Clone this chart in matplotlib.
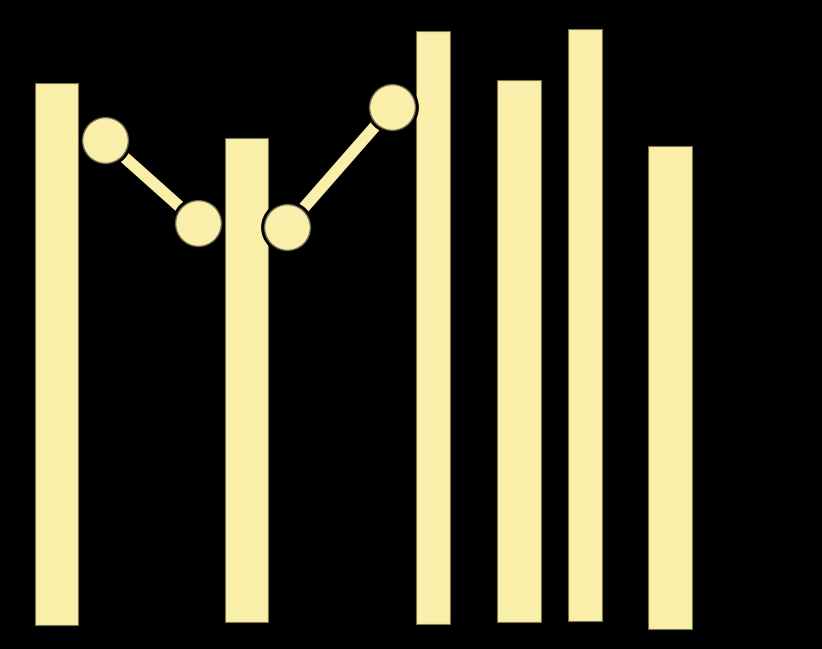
import matplotlib.pyplot as plt
import numpy as np

# bar data (axis units, y measured up from the bottom of the canvas)
bar_x = [56.5, 246.5, 433, 519, 585, 670]
bar_w = [43, 43, 34, 44, 34, 44]
bar_bottom = [24, 27.5, 25.5, 27, 28, 20.5]
bar_top = [566, 511, 618, 569.5, 620, 503.5]

# line with markers, drawn as two separate segments
seg1_x = [105, 198]
seg1_y = [509, 426]
seg2_x = [287, 392]
seg2_y = [422, 542]

yellow = '#f9efaa'

fig = plt.figure(figsize=(8.22, 6.49), dpi=100, facecolor='black')
ax = fig.add_axes([0, 0, 1, 1])
ax.set_facecolor('black')

heights = np.array(bar_top) - np.array(bar_bottom)
ax.bar(bar_x, heights, width=bar_w, bottom=bar_bottom, color=yellow,
       edgecolor='#7a7248', linewidth=0.8, zorder=2)

for sx, sy in [(seg1_x, seg1_y), (seg2_x, seg2_y)]:
    ax.plot(sx, sy, color=yellow, lw=8.5, solid_capstyle='butt', zorder=3)
    # black ring leaves a gap between the line and the dot
    ax.plot(sx, sy, ls='none', marker='o', ms=38, mfc='black', mec='none',
            zorder=4)
    # soft fuzzy edge
    ax.plot(sx, sy, ls='none', marker='o', ms=34, mfc=yellow, mec='none',
            alpha=0.45, zorder=5)
    ax.plot(sx, sy, ls='none', marker='o', ms=32, mfc=yellow, mec='none',
            zorder=6)

ax.set_xlim(0, 822)
ax.set_ylim(0, 649)
ax.axis('off')

fig.savefig('out.png', dpi=100, facecolor='black')
